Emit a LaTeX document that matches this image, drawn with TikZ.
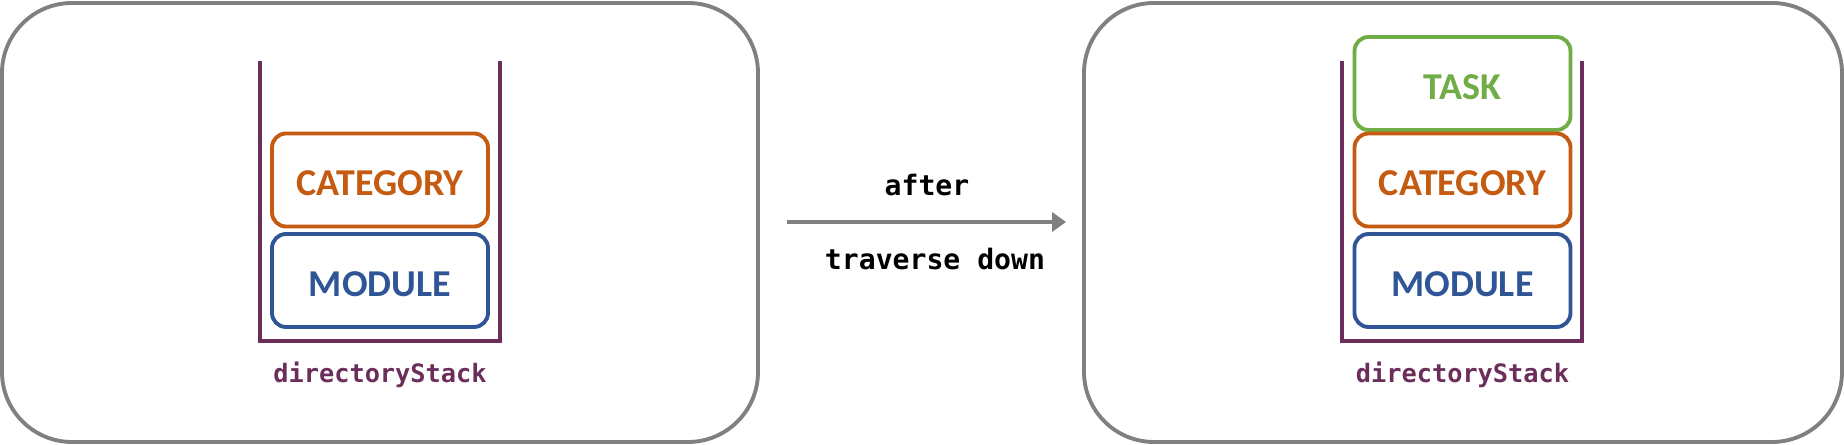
\documentclass[tikz,border=0pt]{standalone}
\usepackage{fontspec}
\usepackage{tikz}
\usetikzlibrary{arrows.meta,positioning,calc}
\newfontfamily\boxfont{Carlito}
\newfontfamily\codefont{DejaVu Sans Mono}
\definecolor{plum}{RGB}{107,45,90}
\definecolor{orangebox}{RGB}{197,90,17}
\definecolor{bluebox}{RGB}{47,85,151}
\definecolor{greenbox}{RGB}{112,173,71}
\definecolor{panelgray}{RGB}{128,128,128}

\begin{document}
\begin{tikzpicture}[
    panel/.style={rectangle, rounded corners=0.7cm, draw=panelgray, line width=1.1pt, minimum width=7.56cm, minimum height=4.39cm},
    entry/.style={rectangle, rounded corners=0.14cm, line width=1.1pt, fill=white, minimum width=2.16cm, minimum height=0.93cm, inner sep=0pt, text height=9pt, text depth=0pt, font=\boxfont\fontsize{10.8}{12}\selectfont\bfseries},
    stacklabel/.style={font=\codefont\fontsize{7.2}{9}\selectfont\bfseries, text=plum},
    arrowlabel/.style={font=\codefont\fontsize{8}{10}\selectfont\bfseries},
    arrow/.style={-{Triangle[length=1.4mm, width=1.9mm]}, line width=1.1pt, panelgray}
]
    \useasboundingbox (0,0) rectangle (18.44,4.45);

    % panels
    \node[panel] (before) at (3.80,2.225) {};
    \node[panel, minimum width=7.58cm] (afterp) at (14.63,2.225) {};

    % stack before
    \draw[plum, line width=1.1pt] (2.60,3.84) -- (2.60,1.04) -- (5.00,1.04) -- (5.00,3.84);
    \node[entry, draw=orangebox, text=orangebox] (cat1) at (3.80,2.65) {CATEGORY};
    \node[entry, draw=bluebox, text=bluebox] (mod1) at (3.80,1.645) {MODULE};
    \node[stacklabel] (lbl1) at (3.80,0.70) {directoryStack};

    % stack after
    \draw[plum, line width=1.1pt] (13.42,3.84) -- (13.42,1.04) -- (15.82,1.04) -- (15.82,3.84);
    \node[entry, draw=greenbox, text=greenbox] (task2) at (14.625,3.615) {TASK};
    \node[entry, draw=orangebox, text=orangebox] (cat2) at (14.625,2.65) {CATEGORY};
    \node[entry, draw=bluebox, text=bluebox] (mod2) at (14.625,1.645) {MODULE};
    \node[stacklabel] (lbl2) at (14.625,0.70) {directoryStack};

    % transition
    \draw[arrow, shorten <=0.27cm, shorten >=0.16cm] (before.east |- 0,2.23) -- (afterp.west |- 0,2.23);
    \node[arrowlabel] (aftertxt) at (9.27,2.60) {after};
    \node[arrowlabel] (travtxt) at (9.35,1.86) {traverse down};
\end{tikzpicture}
\end{document}
